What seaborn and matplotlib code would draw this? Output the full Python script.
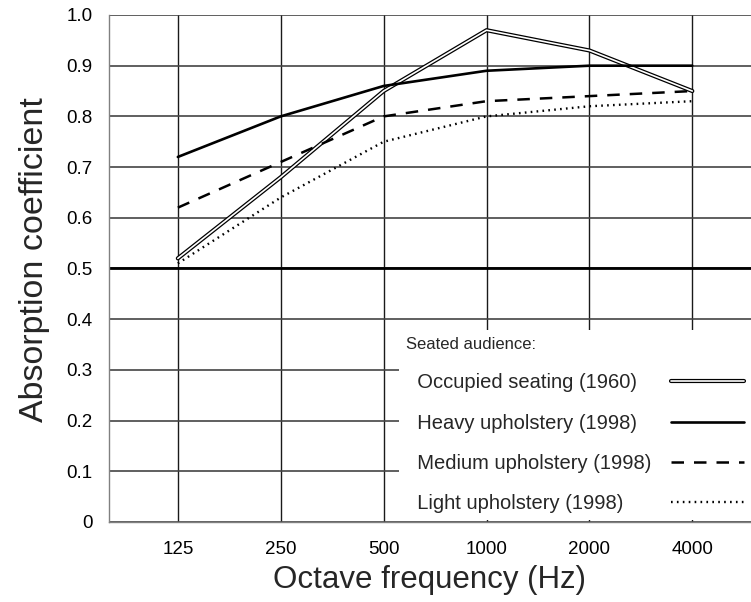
import matplotlib
matplotlib.use("Agg")
import matplotlib.pyplot as plt
import matplotlib.patheffects as pe
import pandas as pd
import seaborn as sns

# octave band centre frequencies (Hz)
freqs = [125, 250, 500, 1000, 2000, 4000]
freq_labels = ["125", "250", "500", "1000", "2000", "4000"]

occupied_1960 = [0.52, 0.68, 0.85, 0.97, 0.93, 0.85]
heavy_1998 = [0.72, 0.80, 0.86, 0.89, 0.90, 0.90]
medium_1998 = [0.62, 0.71, 0.80, 0.83, 0.84, 0.85]
light_1998 = [0.51, 0.64, 0.75, 0.80, 0.82, 0.83]

series_names = [
    "Occupied seating (1960)",
    "Heavy upholstery (1998)",
    "Medium upholstery (1998)",
    "Light upholstery (1998)",
]
reference_level = 0.5
y_ticks = [0, 0.1, 0.2, 0.3, 0.4, 0.5, 0.6, 0.7, 0.8, 0.9, 1.0]
y_tick_labels = ["0", "0.1", "0.2", "0.3", "0.4", "0.5", "0.6", "0.7", "0.8", "0.9", "1.0"]

df = pd.DataFrame({
    "freq": freqs * 4,
    "alpha": occupied_1960 + heavy_1998 + medium_1998 + light_1998,
    "series": [n for n in series_names for _ in freqs],
})

sns.set_style("white")
plt.rcParams["font.family"] = ["Liberation Sans", "DejaVu Sans"]

fig = plt.figure(figsize=(7.51, 6.02), dpi=100)
ax = fig.add_axes([0.1451, 0.1329, 0.8549, 0.8422])

styles = {
    series_names[0]: dict(color="white", linewidth=1.2,
                          path_effects=[pe.Stroke(linewidth=3.0, foreground="black"), pe.Normal()]),
    series_names[1]: dict(color="black", linewidth=1.9),
    series_names[2]: dict(color="black", linewidth=1.8, dashes=(5, 4)),
    series_names[3]: dict(color="black", linewidth=1.7, dashes=(0.7, 1.8)),
}

for name in series_names:
    sub = df[df["series"] == name]
    # entries sit a little to the right of the legend title
    sns.lineplot(data=sub, x="freq", y="alpha", ax=ax, label="  " + name, zorder=3, **styles[name])

ax.axhline(reference_level, color="black", linewidth=2.0, zorder=2)

ax.set_xscale("log", base=2)
ax.set_xlim(78.6, 5940)
ax.set_ylim(0, 1.0)
ax.set_xticks(freqs)
ax.set_xticklabels(freq_labels)
ax.minorticks_off()
ax.set_yticks(y_ticks)
ax.set_yticklabels(y_tick_labels)

ax.grid(True, axis="y", color="#444444", linewidth=1.2)
ax.grid(True, axis="x", color="#1a1a1a", linewidth=1.0)
ax.set_axisbelow(True)

for side in ["top", "right"]:
    ax.spines[side].set_visible(False)
ax.spines["left"].set_color("#808080")
ax.spines["bottom"].set_color("#808080")
ax.spines["left"].set_linewidth(1.0)
ax.spines["bottom"].set_linewidth(1.0)

ax.tick_params(axis="both", length=0, labelsize=13.5, colors="black")
ax.tick_params(axis="y", pad=12)
ax.tick_params(axis="x", pad=14)

ax.set_xlabel("Octave frequency (Hz)", fontsize=22.5, labelpad=5)
ax.set_ylabel("Absorption coefficient", fontsize=24.5)
ax.yaxis.set_label_coords(-0.092, 0.517)

leg_fs = 14.5
leg_sep = 1.0
leg = ax.legend(
    title="Seated audience:",
    loc="lower right",
    bbox_to_anchor=(1.0, 0.004),
    borderaxespad=0,
    markerfirst=False,
    frameon=True,
    fancybox=False,
    framealpha=1,
    edgecolor="none",
    facecolor="white",
    fontsize=leg_fs,
    title_fontsize=12,
    handlelength=3.6,
    handletextpad=leg_sep,
    labelspacing=1.05,
    borderpad=0.35,
    alignment="left",
)
leg.set_zorder(5)

# labels left-aligned, handles pushed to a common right edge
fig.canvas.draw()
renderer = fig.canvas.get_renderer()
column = leg._legend_handle_box.get_children()[0]
column.align = "left"
rows = column.get_children()
widths = [row.get_children()[0].get_bbox(renderer).width for row in rows]
for row, w in zip(rows, widths):
    row.sep = leg_sep * leg_fs + (max(widths) - w) * 72.0 / fig.dpi

fig.savefig("out.png", dpi=100)
plt.close(fig)
